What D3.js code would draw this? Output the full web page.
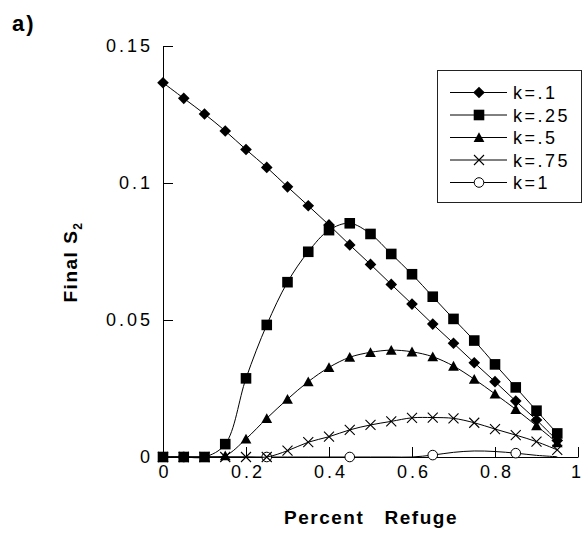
<!DOCTYPE html>
<html>
<head>
<meta charset="utf-8">
<script src="https://cdn.jsdelivr.net/npm/d3@7"></script>
<style>
  body { margin: 0; background: #fff; }
  svg { display: block; font-family: "Liberation Sans", Arial, sans-serif; }
</style>
</head>
<body>
<svg id="chart" width="584" height="533"></svg>
<script>
// percent refuge (x) shared by all series
const refuge = [0, 0.05, 0.1, 0.15, 0.2, 0.25, 0.3, 0.35, 0.4, 0.45,
                0.5, 0.55, 0.6, 0.65, 0.7, 0.75, 0.8, 0.85, 0.9, 0.95];

// Final S2 for each k
const k010 = [0.1366, 0.1309, 0.1252, 0.1190, 0.1122, 0.1057, 0.0986, 0.0917, 0.0847, 0.0774,
              0.0703, 0.0630, 0.0558, 0.0485, 0.0415, 0.0344, 0.0275, 0.0204, 0.0135, 0.0060];
const k025 = [0, 0, 0, 0.0047, 0.0287, 0.0482, 0.0638, 0.0749, 0.0828, 0.0853,
              0.0814, 0.0741, 0.0667, 0.0585, 0.0504, 0.0425, 0.0338, 0.0254, 0.0169, 0.0086];
const k050 = [0, 0, 0, 0.0005, 0.0066, 0.0141, 0.0211, 0.0275, 0.0327, 0.0364,
              0.0382, 0.0390, 0.0384, 0.0366, 0.0332, 0.0284, 0.0230, 0.0174, 0.0114, 0.0052];
const k075 = [0, 0, 0, 0, 0, 0, 0.0023, 0.0054, 0.0074, 0.0099,
              0.0117, 0.0130, 0.0143, 0.0144, 0.0141, 0.0125, 0.0102, 0.0080, 0.0056, 0.0026];
const k100 = [0, 0, 0, 0, 0, 0, 0, 0, 0, 0,
              0, 0, 0, 0.0007, 0.0017, 0.0022, 0.0020, 0.0014, 0.0006, 0.0001];

const seriesNames = ['k=.1', 'k=.25', 'k=.5', 'k=.75', 'k=1'];
const seriesValues = [k010, k025, k050, k075, k100];
const markerTypes = ['diamond', 'square', 'triangle', 'cross', 'circle'];

const xTickValues = [0, 0.2, 0.4, 0.6, 0.8, 1];
const xTickLabels = ['0', '0.2', '0.4', '0.6', '0.8', '1'];
const yTickValues = [0, 0.05, 0.1, 0.15];
const yTickLabels = ['0', '0.05', '0.1', '0.15'];

const svg = d3.select('#chart');

const x = d3.scaleLinear().domain([0, 1]).range([163, 578]);
const y = d3.scaleLinear().domain([0, 0.15]).range([457, 46]);

// marker paths (centered on 0,0)
const markerPath = {
  diamond: 'M0,-5.8L5.8,0L0,5.8L-5.8,0Z',
  square: 'M-5.3,-5.3H5.3V5.3H-5.3Z',
  triangle: 'M0,-5.2L5.4,4.6H-5.4Z',
  cross: 'M-5,-5L5,5M5,-5L-5,5',
};

function drawMarker(g, type, cx, cy) {
  if (type === 'circle') {
    g.append('circle').attr('cx', cx).attr('cy', cy).attr('r', 4.8)
      .attr('fill', '#fff').attr('stroke', '#000').attr('stroke-width', 1);
  } else if (type === 'cross') {
    g.append('path').attr('d', markerPath.cross)
      .attr('transform', `translate(${cx},${cy})`)
      .attr('fill', 'none').attr('stroke', '#000').attr('stroke-width', 1.1);
  } else {
    g.append('path').attr('d', markerPath[type])
      .attr('transform', `translate(${cx},${cy})`)
      .attr('fill', '#000');
  }
}

// Axes (ticks point inward)
const xAxis = d3.axisBottom(x)
  .tickValues(xTickValues)
  .tickFormat((d, i) => xTickLabels[i])
  .tickSizeInner(-10).tickSizeOuter(0).tickPadding(8);
const yAxis = d3.axisLeft(y)
  .tickValues(yTickValues)
  .tickFormat((d, i) => yTickLabels[i])
  .tickSizeInner(-10).tickSizeOuter(0).tickPadding(13);

const gx = svg.append('g').attr('transform', `translate(0,${y(0)})`).call(xAxis);
const gy = svg.append('g').attr('transform', `translate(${x(0)},0)`).call(yAxis);

[gx, gy].forEach(g => {
  g.selectAll('path, line').attr('stroke', '#000').attr('stroke-width', 1);
  g.selectAll('text')
    .attr('fill', '#000')
    .style('font-size', '18px')
    .style('letter-spacing', '3px')
    .style('font-family', '"Liberation Sans", Arial, sans-serif');
});
gx.selectAll('text').attr('dx', (d, i) => i === xTickValues.length - 1 ? '-1px' : '1.5px');
gy.selectAll('text').attr('dx', '3px');

// Series: drawn last-to-first so k=.1 sits on top
const line = d3.line()
  .x((d, i) => x(refuge[i]))
  .y(d => y(d))
  .curve(d3.curveCatmullRom.alpha(0.5));

const plot = svg.append('g');
for (let s = seriesValues.length - 1; s >= 0; s--) {
  const vals = seriesValues[s];
  const g = plot.append('g');
  g.append('path')
    .attr('d', line(vals))
    .attr('fill', 'none')
    .attr('stroke', '#000')
    .attr('stroke-width', 1);
  vals.forEach((v, i) => {
    // open circles only on every fourth point
    if (markerTypes[s] === 'circle' && (i - 1) % 4 !== 0) return;
    drawMarker(g, markerTypes[s], x(refuge[i]), y(v));
  });
}

// Legend
const legend = svg.append('g');
legend.append('rect')
  .attr('x', 437.5).attr('y', 70.5).attr('width', 144).attr('height', 132)
  .attr('fill', '#fff').attr('stroke', '#222').attr('stroke-width', 1);
seriesNames.forEach((name, i) => {
  const ly = 92.5 + i * 22.5;
  legend.append('line')
    .attr('x1', 450).attr('x2', 507).attr('y1', ly).attr('y2', ly)
    .attr('stroke', '#000').attr('stroke-width', 1);
  drawMarker(legend, markerTypes[i], 479, ly);
  legend.append('text')
    .attr('x', 513).attr('y', ly + 6.5)
    .style('font-size', '18px')
    .style('letter-spacing', '2.5px')
    .text(name);
});

// Titles
svg.append('text')
  .attr('x', 12).attr('y', 31)
  .style('font-size', '22px').style('font-weight', 'bold')
  .style('letter-spacing', '2px')
  .text('a)');

svg.append('text')
  .attr('x', 371).attr('y', 524)
  .attr('text-anchor', 'middle')
  .style('font-size', '19px').style('font-weight', 'bold')
  .style('letter-spacing', '1.5px')
  .style('white-space', 'pre')
  .text('Percent   Refuge');

const yl = svg.append('text')
  .attr('transform', 'translate(77,262) rotate(-90)')
  .attr('text-anchor', 'middle')
  .style('font-size', '19px').style('font-weight', 'bold')
  .style('letter-spacing', '1.5px');
yl.append('tspan').text('Final S');
yl.append('tspan').attr('dy', 5).style('font-size', '12px').text('2');
</script>
</body>
</html>
